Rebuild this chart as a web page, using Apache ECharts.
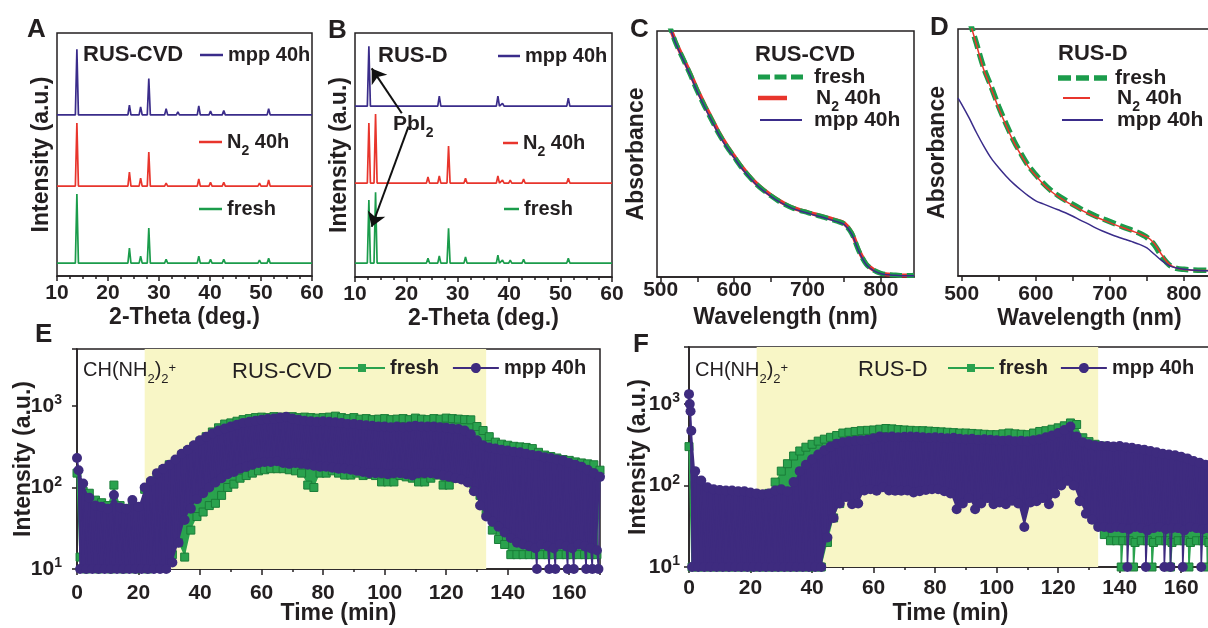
<!DOCTYPE html>
<html><head><meta charset="utf-8">
<script src="https://cdn.jsdelivr.net/npm/echarts@6/dist/echarts.min.js"></script>
<style>html,body{margin:0;padding:0;background:#fff}#c{width:1208px;height:628px}</style>
</head><body><div id="c"></div>
<script>
// ================= DATA =================
// --- XRD (panels A, B): peak positions (2-theta, deg) and peak heights (a.u.), stacking baselines
const xrdPeaksA = [13.9, 19.7, 24.2, 26.4, 28.0, 31.4, 33.7, 37.8, 40.1, 42.7, 49.7, 51.5];
const xrdAFresh = [28.4, 0.8, 6.2, 2.9, 14.4, 1.6, 0.8, 2.9, 1.6, 1.6, 1.2, 2.0];
const xrdAN2    = [26.0, 0.8, 5.8, 3.3, 14.0, 1.2, 0.8, 2.9, 1.6, 1.6, 1.2, 2.5];
const xrdAMpp   = [27.0, 0.8, 4.0, 3.3, 15.0, 2.5, 1.2, 3.7, 1.6, 1.8, 0.8, 2.5];
const xrdBaseA  = [5.3, 37, 66.3];   // fresh, N2, mpp
const xrdPeaksB = [12.7, 14.0, 19.7, 24.2, 26.4, 28.2, 31.5, 33.7, 37.8, 38.7, 40.2, 42.8, 49.7, 51.5];
const xrdBFresh = [25.8, 29.0, 0.8, 2.0, 2.9, 14.3, 2.5, 0.8, 3.3, 1.2, 1.2, 1.6, 0.4, 2.0];
const xrdBN2    = [24.6, 28.3, 0.8, 2.5, 2.9, 15.2, 2.0, 0.8, 2.9, 1.2, 1.2, 1.6, 0.4, 2.0];
const xrdBMpp   = [24.6, 0.8, 0, 0, 4.1, 0, 0, 0.8, 4.1, 1.2, 0, 0, 0, 3.3];
const xrdBaseB  = [5.7, 38.5, 70];
const pbi2Arrows = [[[19.1, 67.1], [13.25, 85.5]], [[20.4, 61.6], [13.25, 20.6]]];

// --- UV-vis absorbance (panels C, D)
const cWl = [510,520,530,540,550,560,570,580,590,600,610,620,630,640,650,660,670,680,690,700,710,720,730,740,750,760,770,780,790,800,810,820,830,840,845];
const cFresh = [104,95.5,89,82.5,75.5,69.3,63.5,57.8,53,48.8,44.6,41,37.8,35.2,33,31,29.4,28,27,26.2,25.3,24.5,23.6,22.7,21.5,17.8,10.5,5.2,2.8,1.5,1,0.8,0.6,0.6,0.7];
const cN2    = [104,95.8,89.4,83,76.2,70,64.2,58.4,53.5,49.2,45,41.3,38.1,35.5,33.3,31.3,29.6,28.2,27.2,26.4,25.5,24.7,23.9,23,21.8,18.2,10.8,5.4,2.9,1.5,1,0.8,0.6,0.6,0.6];
const cMpp   = [104,95.3,88.7,82.2,75.2,69,63.2,57.5,52.7,48.5,44.3,40.8,37.6,35,32.8,30.8,29.2,27.8,26.8,26,25.1,24.3,23.4,22.5,21.3,17.5,10.3,5,2.6,1.3,0.9,0.7,0.5,0.5,0.5];
const dWl = [510,520,530,540,550,560,570,580,590,600,610,620,630,640,650,660,670,680,690,700,710,720,730,740,750,760,770,780,790,800,810,820,830,840,850];
const dFresh = [104,94,84,76.5,68.5,61.5,55,49.5,44.6,41,37.6,34.8,32.6,30.7,29,27.3,25.8,24.4,23.2,22,20.8,19.6,18.5,17.3,15.6,12.6,8,4.5,3.1,2.7,2.45,2.35,2.3,2.3,2.3];
const dN2    = [104,93.5,83.3,75.8,67.8,60.9,54.4,49,44.2,40.6,37.2,34.4,32.2,30.3,28.6,26.9,25.4,24,22.8,21.6,20.4,19.3,18.2,17.1,15.8,13.2,8.6,4.8,3.2,2.6,2.35,2.25,2.2,2.2,2.2];
const dMppWl = [495,500,510,520,530,540,550,560,570,580,590,600,610,620,630,640,650,660,670,680,690,700,710,720,730,740,750,760,770,780,790,800,810,820,830,840,850];
const dMpp   = [72,69.5,64,58,52.5,47.6,43.8,40.4,37.4,34.8,32.4,30.4,29.2,28,26.8,25.6,24.2,22.6,21.2,19.6,18.2,17,15.9,14.9,13.9,12.8,11.4,8.8,6.2,4.2,3.2,2.7,2.4,2.2,2.1,2.1,2.1];

// --- ToF-SIMS CH(NH2)2+ depth profiles (panels E, F)
// "Hi" values at even minutes 0,2,...,170 ; "Lo" values at odd minutes 1,3,...,169 ; isolated points listed separately
const eMppHi = [230,112,75,60,58,55,81,57,55,70, 58,100,120,150,170,190,220,260,290,330, 380,420,460,500,530,560,590,620,640,660, 680,690,700,720,740,700,680,660,650,640, 650,640,630,620,600,600,590,580,570,560, 560,550,560,550,560,570,560,560,560,550, 540,530,520,500,450,380,330,310,300,290, 285,275,270,260,250,245,235,230,220,215, 200,190,180,165,150,135];
const eMppLo = [10,10,10,10,10,10,10,10,10,10,10,10,10,10,10, 12,21,40,55,72, 85,100,115,130,145, 155,170,180,190,200, 205,205,210,200,195, 200,195,190,185,180, 180,175,170,170,165, 160,155,150,150,150, 145,150,150,145,140, 150,150,150,145,140, 135,130,125,115,90, 60,44,38,33,28, 24,21,20,19,18, 20,19,18,20,19, 18,20,19,18,17];
const eMppExtra = [[0.5, 163], [149.5, 10], [153.5, 10], [155.5, 10], [159.5, 10], [161.5, 10], [165.5, 10], [167.5, 10], [169.5, 10]];
const eFreshHi = [150,90,85,70,65,60,107,60,55,60, 55,95,115,140,165,190,210,245,280,320, 370,420,480,540,600,620,650,680,700,720, 730,720,740,730,720,740,720,730,720,710, 720,730,750,720,700,720,690,700,680,690, 700,680,690,700,680,710,690,680,700,690, 710,700,690,680,676,560,500,420,360,340, 330,320,315,310,300,270,250,240,230,220, 215,206,200,195,190,163];
const eFreshLo = [14,10,15,10,14,10,15,10,14,10,15,10,14,15,15, 15,21,14,30,44, 50,60,64,80,100, 110,130,140,150,160, 165,170,170,170,165, 160,150,107,100,150, 150,160,150,142,142, 150,140,145,140,117, 117,117,140,135,130, 117,117,130,142,107, 107,130,142,130,110, 80,50,30,23,20, 15,15,15,15,15, 15,15,15,15,15, 15,15,15,15,15];
const fMppHi = [1320,150,115,95,90,88,87,87,85,85, 82,80,78,80,87,90,85,110,150,180, 210,240,270,300,325,340,350,355,360,365, 380,400,390,400,390,395,400,395,390,385, 390,385,380,385,375,370,375,365,370,365, 360,355,360,350,355,350,360,370,390,410, 440,480,530,400,340,320,310,305,305,300, 305,295,290,280,275,265,255,245,240,235, 225,215,200,190,180,175];
const fMppLo = [10,10,10,10,10,10,10,10,10,10,10,10,10,10,10,10,10,10,10,10,10,10, 23,40,60, 72,59,60,87,90, 86,95,87,86,86, 87,82,85,88,90, 90,85,80,51,60, 70,51,60,70,59, 62,59,65,60,31, 62,64,70,59,80, 100,114,100,64,45, 38,31,31,30,31, 30,29,31,30,28, 30,31,29,30,30, 28,31,30,29,30];
const fMppExtra = [[0.25, 1000], [0.5, 815], [0.75, 470], [142.5, 10], [148.5, 10], [154.5, 10], [156.5, 10], [160.5, 10], [166.5, 10]];
const fFreshHi = [300,100,90,85,85,85,82,82,80,80, 78,76,75,80,110,150,185,230,265,295, 320,350,370,390,410,440,450,460,470,475, 480,490,500,495,485,480,475,470,470,465, 460,455,450,445,440,440,435,430,425,420, 420,430,440,430,425,420,440,460,470,490, 510,540,585,560,385,345,320,305,295,285, 275,265,255,245,235,225,215,210,215,200, 190,180,170,160,150,145];
const fFreshLo = [10,10,10,10,10,10,10,10,10,10,10,10,10,10,10,10,10,10,10,10,10,10, 20,40,60, 80,90,100,110,120, 125,130,130,125,130, 130,125,130,125,120, 120,125,120,115,120, 115,120,115,110,115, 110,115,110,115,110, 115,120,125,130,140, 150,160,170,150,120, 60,35,25,21,21, 21,21,20,21,21, 20,21,21,20,21, 21,20,21,21,20];
const fFreshExtra = [[140.5, 10], [144.5, 10], [150.5, 10], [156.5, 10], [162.5, 10], [168.5, 10]];
const shadeE = [22, 133];
const shadeF = [22, 133];

// ================= STYLE =================
const INK = '#231f20';
const FONT = "'Liberation Sans', Arial, Helvetica, sans-serif";
const GREEN = '#1b9c4b', RED = '#e8352c', PURPLE = '#3a2c8a';
const S_GREEN = '#2aa24e', S_GREEN_EDGE = '#1a7d38', S_PURPLE = '#3e2b7f';
const SHADE = '#f8f6c6';

// ================= BUILDERS =================
function xrdLine(peaks, heights, base) {
  const pts = [[10, base]];
  peaks.forEach((p, i) => {
    if (heights[i] > 0) pts.push([p - 0.3, base], [p, base + heights[i]], [p + 0.3, base]);
  });
  pts.push([60, base]);
  return pts;
}
function pairs(xs, ys) { return xs.map((x, i) => [x, ys[i]]); }
function zig(hi, lo, extra) {
  const pts = [];
  hi.forEach((v, i) => { pts.push([2 * i, v]); if (i < lo.length) pts.push([2 * i + 1, lo[i]]); });
  if (extra) extra.forEach(p => pts.push(p));
  pts.sort((a, b) => a[0] - b[0]);
  return pts;
}

const gridBase = {show: true, borderColor: INK, borderWidth: 1.5, backgroundColor: 'transparent', containLabel: false, outerBoundsMode: 'none'};
const grids = [
  Object.assign({left: 57, top: 33, width: 255, height: 243}, gridBase),
  Object.assign({left: 355, top: 33, width: 257, height: 244}, gridBase),
  Object.assign({left: 657, top: 31, width: 257, height: 246}, gridBase),
  Object.assign({left: 958, top: 29, width: 263, height: 247}, gridBase),
  Object.assign({left: 77, top: 349, width: 523, height: 220}, gridBase),
  Object.assign({left: 689, top: 347, width: 523, height: 220}, gridBase)
];

const lineSt = {color: INK, width: 1.5};
const labelSt = {color: INK, fontSize: 21, fontWeight: 'bold', fontFamily: FONT};
const nameSt = {color: INK, fontSize: 23, fontWeight: 'bold', fontFamily: FONT};

function xAx(gi, min, max, extra) {
  const ax = {
    type: 'value', gridIndex: gi, min, max,
    splitLine: {show: false},
    axisLine: {show: true, onZero: false, lineStyle: lineSt},
    axisTick: {show: true, length: 5, lineStyle: lineSt},
    axisLabel: Object.assign({margin: extra.margin}, labelSt),
    name: extra.name, nameLocation: 'middle', nameGap: extra.nameGap, nameMoveOverlap: false,
    nameTextStyle: nameSt
  };
  if (extra.interval) ax.interval = extra.interval;
  if (extra.minor) ax.minorTick = {show: true, splitNumber: extra.minor, length: 3, lineStyle: lineSt};
  if (extra.tickValues) ax.axisTick.customValues = extra.tickValues;
  if (extra.labelValues) ax.axisLabel.customValues = extra.labelValues;
  if (extra.hideMax) ax.axisLabel.showMaxLabel = false;
  return ax;
}
const uvTicks = [500, 550, 600, 650, 700, 750, 800, 850];
const uvLabels = [500, 600, 700, 800];
const xAxes = [
  xAx(0, 10, 60, {interval: 10, minor: 4, margin: 7, name: '2-Theta (deg.)', nameGap: 30}),
  xAx(1, 10, 60, {interval: 10, minor: 4, margin: 7, name: '2-Theta (deg.)', nameGap: 30}),
  xAx(2, 495, 845, {tickValues: uvTicks, labelValues: uvLabels, margin: 3, name: 'Wavelength (nm)', nameGap: 29}),
  xAx(3, 495, 850, {tickValues: uvTicks, labelValues: uvLabels, margin: 8, name: 'Wavelength (nm)', nameGap: 31}),
  xAx(4, 0, 170, {interval: 20, minor: 2, margin: 14, name: 'Time (min)', nameGap: 33, hideMax: true}),
  xAx(5, 0, 170, {interval: 20, minor: 2, margin: 11, name: 'Time (min)', nameGap: 35, hideMax: true})
];
xAxes[4].axisTick.length = 6; xAxes[5].axisTick.length = 6;

function yHidden(gi, name, gap) {
  return {type: 'value', gridIndex: gi, min: 0, max: 100, splitLine: {show: false},
    axisLine: {show: false}, axisTick: {show: false}, axisLabel: {show: false},
    name, nameLocation: 'middle', nameGap: gap, nameMoveOverlap: false, nameTextStyle: nameSt};
}
const supRich = {
  b: {fontFamily: FONT, fontSize: 21, fontWeight: 'bold', color: INK, lineHeight: 22},
  p: {fontFamily: FONT, fontSize: 14, fontWeight: 'bold', color: INK, lineHeight: 22, height: 11, verticalAlign: 'top'}
};
function yLog(gi, margin, gap) {
  return {type: 'log', logBase: 10, gridIndex: gi, min: 10, max: 5000, splitLine: {show: false},
    axisLine: {show: true, lineStyle: lineSt}, axisTick: {show: true, length: 5, lineStyle: lineSt},
    axisLabel: {margin, formatter: v => {
      const e = Math.log10(v); const r = Math.round(e);
      return Math.abs(e - r) < 1e-6 ? '{b|10}{p|' + r + '}' : '';
    }, rich: supRich},
    name: 'Intensity (a.u.)', nameLocation: 'middle', nameGap: gap, nameMoveOverlap: false, nameTextStyle: nameSt};
}
const yAxes = [
  yHidden(0, 'Intensity (a.u.)', 4), yHidden(1, 'Intensity (a.u.)', 4),
  yHidden(2, 'Absorbance', 9), yHidden(3, 'Absorbance', 9),
  yLog(4, 15, 42), yLog(5, 9, 39)
];

// ================= SERIES =================
function xrdSeries(name, gi, data, color) {
  return {name, type: 'line', xAxisIndex: gi, yAxisIndex: gi, data, showSymbol: false, symbol: 'none',
    lineStyle: {color, width: 1.7}, itemStyle: {color}, z: 3};
}
function uvSeries(name, gi, data, color, width, dash) {
  return {name, type: 'line', xAxisIndex: gi, yAxisIndex: gi, data, showSymbol: false, symbol: 'none', smooth: 0.3,
    lineStyle: {color, width, type: dash || 'solid', cap: 'butt'}, itemStyle: {color}, z: 3};
}
function simsSeries(name, gi, data, kind) {
  const green = kind === 'fresh';
  return {name, type: 'line', xAxisIndex: gi, yAxisIndex: gi, data,
    symbol: green ? 'rect' : 'circle', symbolSize: green ? 8 : 10, showSymbol: true, showAllSymbol: true,
    lineStyle: {color: green ? S_GREEN : S_PURPLE, width: 1.5},
    itemStyle: green ? {color: S_GREEN, borderColor: S_GREEN_EDGE, borderWidth: 1} : {color: S_PURPLE},
    z: green ? 3 : 5};
}
function shadeSeries(name, gi, range) {
  return {name, type: 'line', xAxisIndex: gi, yAxisIndex: gi, data: [], z: 1, silent: true,
    markArea: {silent: true, itemStyle: {color: SHADE}, data: [[{xAxis: range[0]}, {xAxis: range[1]}]]}};
}

const bMpp = xrdSeries('B|mpp', 1, xrdLine(xrdPeaksB, xrdBMpp, xrdBaseB[2]), PURPLE);
bMpp.markLine = {silent: true, symbol: ['none', 'arrow'], symbolSize: 14, animation: false,
  lineStyle: {color: '#111', width: 2, type: 'solid'}, label: {show: false},
  data: pbi2Arrows.map(a => [{coord: a[0]}, {coord: a[1]}])};

const series = [
  xrdSeries('A|fresh', 0, xrdLine(xrdPeaksA, xrdAFresh, xrdBaseA[0]), GREEN),
  xrdSeries('A|n2', 0, xrdLine(xrdPeaksA, xrdAN2, xrdBaseA[1]), RED),
  xrdSeries('A|mpp', 0, xrdLine(xrdPeaksA, xrdAMpp, xrdBaseA[2]), PURPLE),
  xrdSeries('B|fresh', 1, xrdLine(xrdPeaksB, xrdBFresh, xrdBaseB[0]), GREEN),
  xrdSeries('B|n2', 1, xrdLine(xrdPeaksB, xrdBN2, xrdBaseB[1]), RED),
  bMpp,
  uvSeries('C|n2', 2, pairs(cWl, cN2), RED, 4),
  uvSeries('C|fresh', 2, pairs(cWl, cFresh), GREEN, 5, [12, 5]),
  uvSeries('C|mpp', 2, pairs(cWl, cMpp), PURPLE, 1.5),
  uvSeries('D|fresh', 3, pairs(dWl, dFresh), GREEN, 5.5, [13, 5]),
  uvSeries('D|n2', 3, pairs(dWl, dN2), RED, 1.5),
  uvSeries('D|mpp', 3, pairs(dMppWl, dMpp), PURPLE, 1.5),
  shadeSeries('E|shade', 4, shadeE),
  simsSeries('E|fresh', 4, zig(eFreshHi, eFreshLo), 'fresh'),
  simsSeries('E|mpp', 4, zig(eMppHi, eMppLo, eMppExtra), 'mpp'),
  shadeSeries('F|shade', 5, shadeF),
  simsSeries('F|fresh', 5, zig(fFreshHi, fFreshLo, fFreshExtra), 'fresh'),
  simsSeries('F|mpp', 5, zig(fMppHi, fMppLo, fMppExtra), 'mpp')
];

// ================= LEGENDS =================
function richSet(fs, pad) {
  return {
    n0: {fontFamily: FONT, fontSize: fs, fontWeight: 'bold', color: INK, lineHeight: 22, padding: [0, 0, 0, pad]},
    n: {fontFamily: FONT, fontSize: fs, fontWeight: 'bold', color: INK, lineHeight: 22},
    s: {fontFamily: FONT, fontSize: 14, fontWeight: 'bold', color: INK, lineHeight: 22, height: 4, verticalAlign: 'bottom'}
  };
}
const TXT = {mpp: '{n0|mpp 40h}', n2: '{n0|N}{s|2}{n| 40h}', fresh: '{n0|fresh}'};
function legend1(name, left, yc, iw, ih, icon, color, key, fs, pad) {
  return {show: true, orient: 'horizontal', left, top: yc - 11, padding: 0, itemGap: 0,
    itemWidth: iw, itemHeight: ih, selectedMode: false,
    data: [{name, icon, itemStyle: {color, borderWidth: 0}}],
    itemStyle: {color, borderWidth: 0},
    formatter: () => TXT[key],
    textStyle: {fontFamily: FONT, fontSize: fs, fontWeight: 'bold', color: INK, lineHeight: 22, rich: richSet(fs, pad)}};
}
const DASH_C = 'path://M0,0H12V5H0Z M16.5,0H28.5V5H16.5Z M33,0H45V5H33Z';
const DASH_D = 'path://M0,0H13V5.5H0Z M18,0H31V5.5H18Z M36,0H49V5.5H36Z';
const SQ_ICON = 'path://M0,3H19V0H27V3H46V5H27V8H19V5H0Z';
const CIRC_ICON = 'path://M0,4H18.1A5,5 0 0 1 27.9,4H46V6H27.9A5,5 0 0 1 18.1,6H0Z';
function legendSims(prefix, left, yc, gap) {
  return {show: true, orient: 'horizontal', left, top: yc - 11, padding: 0, itemGap: gap,
    itemWidth: 46, itemHeight: 10, selectedMode: false,
    data: [{name: prefix + '|fresh', icon: SQ_ICON, itemStyle: {color: S_GREEN, borderWidth: 0}},
           {name: prefix + '|mpp', icon: CIRC_ICON, itemStyle: {color: S_PURPLE, borderWidth: 0}}],
    formatter: n => n.endsWith('fresh') ? TXT.fresh : TXT.mpp,
    textStyle: {fontFamily: FONT, fontSize: 20, fontWeight: 'bold', color: INK, lineHeight: 22, rich: richSet(20, 0)}};
}
const legends = [
  legend1('A|mpp', 200, 55, 23, 2.5, 'rect', PURPLE, 'mpp', 20, 0),
  legend1('A|n2', 199, 142, 23, 2.5, 'rect', RED, 'n2', 20, 0),
  legend1('A|fresh', 199, 209, 23, 2.5, 'rect', GREEN, 'fresh', 20, 0),
  legend1('B|mpp', 498, 56, 22, 2.5, 'rect', PURPLE, 'mpp', 20, 0),
  legend1('B|n2', 503, 143, 15, 2.5, 'rect', RED, 'n2', 20, 0),
  legend1('B|fresh', 504, 209, 15, 2.5, 'rect', GREEN, 'fresh', 20, 0),
  legend1('C|fresh', 758, 77, 45, 5, DASH_C, GREEN, 'fresh', 21, 6),
  legend1('C|n2', 758, 98, 29, 4.5, 'rect', RED, 'n2', 21, 24),
  legend1('C|mpp', 760, 120, 42, 1.8, 'rect', PURPLE, 'mpp', 21, 7),
  legend1('D|fresh', 1058, 78, 49, 5.5, DASH_D, GREEN, 'fresh', 21, 3),
  legend1('D|n2', 1063, 98, 27, 2, 'rect', RED, 'n2', 21, 22),
  legend1('D|mpp', 1062, 120, 41, 2, 'rect', PURPLE, 'mpp', 21, 9),
  legendSims('E', 339, 368, 14),
  legendSims('F', 948, 368, 13)
];

// ================= TEXT LABELS =================
function ttl(text, left, top, fs, weight) {
  return {text, left, top, padding: 0,
    textStyle: {fontFamily: FONT, fontSize: fs, fontWeight: weight, color: INK, lineHeight: fs}};
}
const chRich = {
  n: {fontFamily: FONT, fontSize: 20, fontWeight: 'normal', color: INK, lineHeight: 22},
  s: {fontFamily: FONT, fontSize: 13, fontWeight: 'normal', color: INK, lineHeight: 22, height: 4, verticalAlign: 'bottom'},
  p: {fontFamily: FONT, fontSize: 13, fontWeight: 'normal', color: INK, lineHeight: 22, height: 18, verticalAlign: 'top'}
};
const pbRich = {
  n: {fontFamily: FONT, fontSize: 21, fontWeight: 'bold', color: INK, lineHeight: 22},
  s: {fontFamily: FONT, fontSize: 14, fontWeight: 'bold', color: INK, lineHeight: 22, height: 4, verticalAlign: 'bottom'}
};
const CH_TEXT = '{n|CH(NH}{s|2}{n|)}{s|2}{p|+}';
const titles = [
  ttl('A', 27, 17, 26, 'bold'), ttl('B', 328, 18, 26, 'bold'), ttl('C', 630, 17, 26, 'bold'),
  ttl('D', 930, 15, 26, 'bold'), ttl('E', 35, 322, 26, 'bold'), ttl('F', 633, 332, 26, 'bold'),
  ttl('RUS-CVD', 83, 43.5, 22, 'bold'), ttl('RUS-D', 378, 44.5, 22, 'bold'),
  ttl('RUS-CVD', 755, 43.5, 22, 'bold'), ttl('RUS-D', 1058, 43, 22, 'bold'),
  ttl('RUS-CVD', 232, 360.5, 22, 'normal'), ttl('RUS-D', 858, 359, 22, 'normal'),
  {text: CH_TEXT, left: 83, top: 359, padding: 0, textStyle: {rich: chRich}},
  {text: CH_TEXT, left: 695, top: 359, padding: 0, textStyle: {rich: chRich}},
  {text: '{n|PbI}{s|2}', left: 393, top: 113, padding: 0, textStyle: {rich: pbRich}}
];

const chart = echarts.init(document.getElementById('c'), null, {renderer: 'canvas'});
chart.setOption({
  animation: false,
  backgroundColor: '#ffffff',
  textStyle: {fontFamily: FONT, color: INK},
  grid: grids, xAxis: xAxes, yAxis: yAxes,
  title: titles, legend: legends, series: series
});

// Filled band between Hi and Lo readings, placed through the chart's own axes (convertToPixel)
function band(gi, hi, lo) {
  const top = hi.map((v, i) => chart.convertToPixel({gridIndex: gi}, [2 * i, v]));
  const bot = lo.map((v, i) => chart.convertToPixel({gridIndex: gi}, [2 * i + 1, v])).reverse();
  return top.concat(bot);
}
chart.setOption({
  graphic: [
    {type: 'polygon', silent: true, z: 2, shape: {points: band(4, eFreshHi, eFreshLo)}, style: {fill: S_GREEN}},
    {type: 'polygon', silent: true, z: 4, shape: {points: band(4, eMppHi, eMppLo)}, style: {fill: S_PURPLE}},
    {type: 'polygon', silent: true, z: 2, shape: {points: band(5, fFreshHi, fFreshLo)}, style: {fill: S_GREEN}},
    {type: 'polygon', silent: true, z: 4, shape: {points: band(5, fMppHi, fMppLo)}, style: {fill: S_PURPLE}}
  ]
});
</script>
</body></html>
